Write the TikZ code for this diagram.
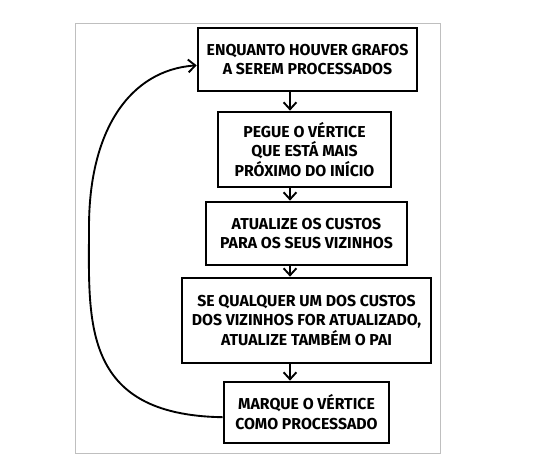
\documentclass[tikz,border=0pt]{standalone}
\usepackage{fontspec}
\setmainfont{Fira Sans}
\usepackage{tikz}
\usetikzlibrary{arrows.meta, calc}

\tikzset{
  passo/.style={draw, line width=2.3pt, align=center, inner sep=0pt,
    font=\bfseries\fontsize{13.5}{17}\selectfont},
  fluxo/.style={line width=1.6pt, -{Straight Barb[length=6pt, width=11pt, line width=1.6pt]}}
}

\begin{document}
\begin{tikzpicture}[x=0.03cm, y=-0.03cm]
  \useasboundingbox (0,0) rectangle (536,466);
  \draw [black!25, line width=0.6pt] (75,23) rectangle (440,453);

  \node [passo, minimum width=219*0.03cm, minimum height=63*0.03cm] (b1) at (307.5,59.5)
    {ENQUANTO HOUVER GRAFOS\\A SEREM PROCESSADOS};
  \node [passo, minimum width=173*0.03cm, minimum height=75*0.03cm] (b2) at (304.5,149.5)
    {PEGUE O VÉRTICE\\QUE ESTÁ MAIS\\PRÓXIMO DO INÍCIO};
  \node [passo, minimum width=201*0.03cm, minimum height=63*0.03cm] (b3) at (306.5,233.5)
    {ATUALIZE OS CUSTOS\\PARA OS SEUS VIZINHOS};
  \node [passo, minimum width=249*0.03cm, minimum height=85*0.03cm] (b4) at (306.5,320.5)
    {SE QUALQUER UM DOS CUSTOS\\DOS VIZINHOS FOR ATUALIZADO,\\ATUALIZE TAMBÉM O PAI};
  \node [passo, minimum width=165*0.03cm, minimum height=61*0.03cm] (b5) at (306.5,412.5)
    {MARQUE O VÉRTICE\\COMO PROCESSADO};

  \coordinate (eixo) at (290,0);
  \draw [fluxo] (b1.south -| eixo) -- (b2.north -| eixo);
  \draw [fluxo] (b2.south -| eixo) -- (b3.north -| eixo);
  \draw [fluxo] (b3.south -| eixo) -- (b4.north -| eixo);
  \draw [fluxo] (b4.south -| eixo) -- (b5.north -| eixo);

  % volta para o inicio
  \draw [fluxo] ([yshift=-4pt]b5.west) .. controls (80,415) and (89,320) .. (89,227)
    .. controls (89,130) and (130,70) .. ([yshift=-5pt]b1.west);
\end{tikzpicture}
\end{document}
